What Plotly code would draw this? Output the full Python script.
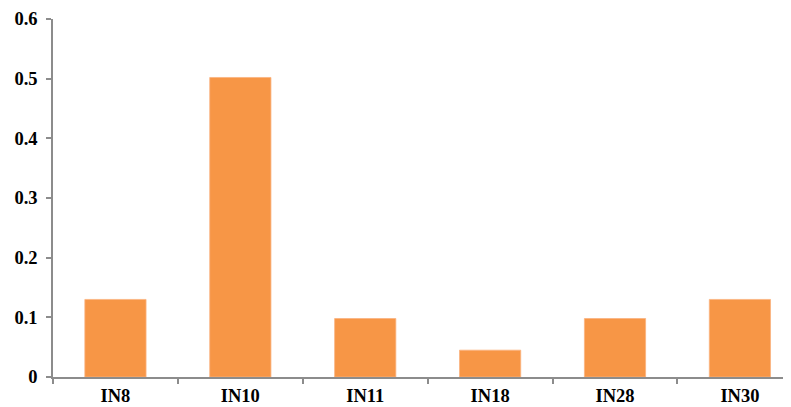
import plotly.graph_objects as go

categories = ["IN8", "IN10", "IN11", "IN18", "IN28", "IN30"]
values = [0.13, 0.502, 0.098, 0.045, 0.098, 0.13]
y_ticks = [0, 0.1, 0.2, 0.3, 0.4, 0.5, 0.6]
y_tick_labels = ["0", "0.1", "0.2", "0.3", "0.4", "0.5", "0.6"]

fig = go.Figure(go.Bar(
    x=categories, y=values,
    marker=dict(color="#F79646", line=dict(color="#FAB27F", width=0.8)),
    width=0.49,
))

tfont = dict(family="Liberation Serif", size=18.5, color="black", weight="bold")
# page body has an 8px default margin, so the figure is offset by 8px
fig.update_layout(
    width=783, height=399,
    margin=dict(l=45, r=0, t=11, b=30, autoexpand=False),
    plot_bgcolor="white", paper_bgcolor="white",
    showlegend=False,
    font=tfont,
)
fig.update_xaxes(
    type="category", range=[-0.5, 5.409],
    showline=True, linecolor="#8C8C8C", linewidth=1.5,
    ticks="outside", tickson="boundaries", ticklen=5, tickcolor="#8C8C8C", tickwidth=1.5,
    tickfont=tfont, ticklabelstandoff=1, automargin=False,
    showgrid=False,
)
fig.update_yaxes(
    range=[0, 0.6], tickvals=y_ticks, ticktext=y_tick_labels,
    showline=True, linecolor="#8C8C8C", linewidth=1.5,
    ticks="outside", ticklen=5, tickcolor="#8C8C8C", tickwidth=1.5,
    tickfont=tfont, ticklabelstandoff=5, automargin=False,
    showgrid=False, zeroline=False,
)
fig.write_html("out.html")
